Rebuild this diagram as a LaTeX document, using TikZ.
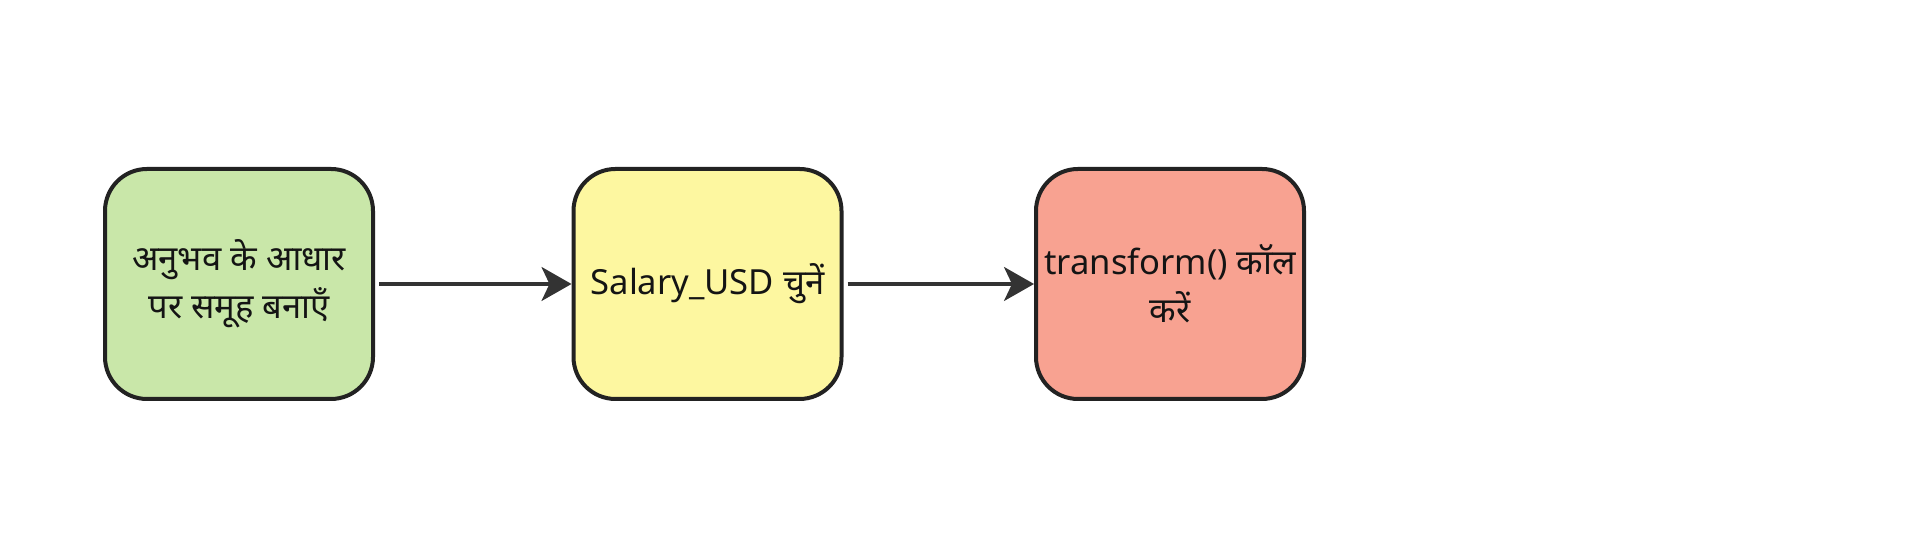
\documentclass[tikz,border=0pt]{standalone}
\usepackage{fontspec}
\setmainfont[Script=Devanagari]{Noto Sans}
\usetikzlibrary{arrows.meta}
\definecolor{boxgreen}{HTML}{C9E7A9}
\definecolor{boxyellow}{HTML}{FDF7A0}
\definecolor{boxred}{HTML}{F8A291}
\definecolor{edgecol}{HTML}{222222}
\definecolor{arrowcol}{HTML}{333333}
\begin{document}
\begin{tikzpicture}[x=0.5pt,y=0.5pt,
  stepbox/.style={draw=edgecol, line width=2pt, rounded corners=21pt,
    minimum width=134pt, minimum height=115pt, align=center,
    font=\fontsize{17.3}{24}\selectfont, text=black!92, inner sep=2pt},
  conn/.style={draw=arrowcol, line width=1.6pt,
    -{Stealth[length=15pt,width=17pt,inset=4pt]}, shorten <=2pt}]
\useasboundingbox (0,0) rectangle (1912,544);
\fill[white] (0,0) rectangle (1912,544);
\node[stepbox, fill=boxgreen] (a) at (239,260) {अनुभव के आधार\\पर समूह बनाएँ};
\node[stepbox, fill=boxyellow] (b) at (707.5,260) {Salary\_USD चुनें};
\node[stepbox, fill=boxred] (c) at (1170,260) {transform() कॉल\\करें};
\draw[conn] (a) -- (b);
\draw[conn] (b) -- (c);
\end{tikzpicture}
\end{document}
